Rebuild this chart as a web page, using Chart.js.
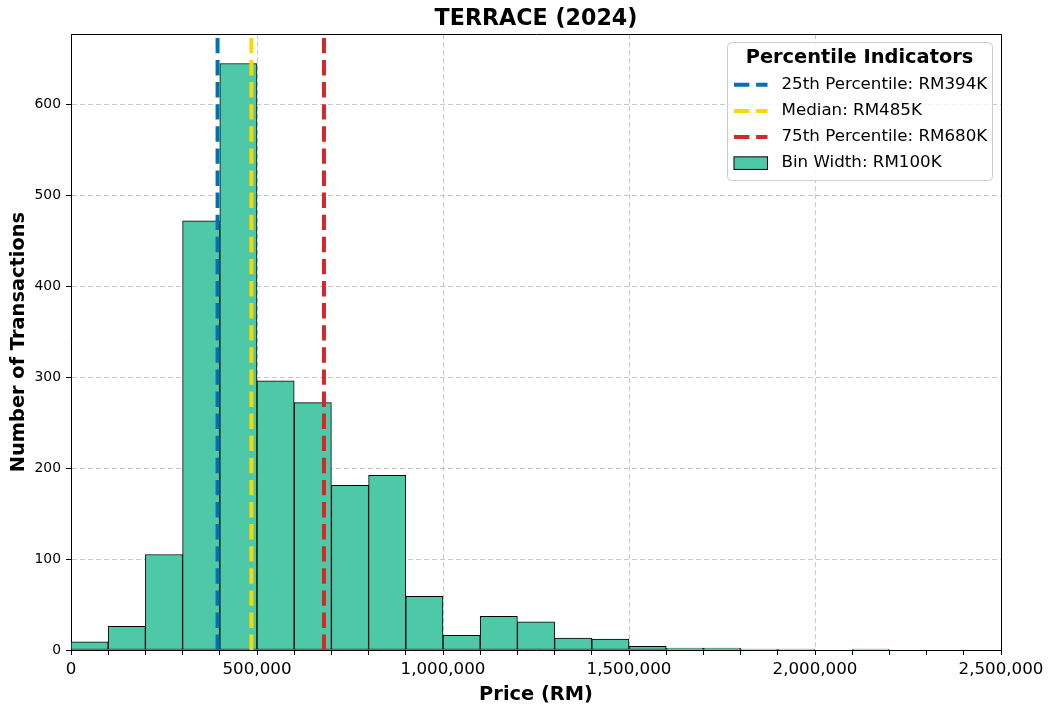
<!DOCTYPE html>
<html>
<head>
<meta charset="utf-8">
<script src="https://cdn.jsdelivr.net/npm/chart.js@4.4.1/dist/chart.umd.min.js"></script>
<style>
    html, body { margin: 0; padding: 0; background: #fff; }
</style>
</head>
<body>
<canvas id="chart" width="1052" height="712"></canvas>
<script>
// histogram bins (start of each 100K bin) and transaction counts
var binStarts = [0, 100000, 200000, 300000, 400000, 500000, 600000, 700000, 800000, 900000,
    1000000, 1100000, 1200000, 1300000, 1400000, 1500000, 1600000, 1700000, 1800000, 1900000,
    2000000, 2100000, 2200000, 2300000, 2400000];
var counts = [9, 26, 105, 472, 645, 296, 272, 181, 192, 59,
    16, 37, 31, 13, 12, 4, 2, 2, 1, 1,
    0, 1, 0, 0, 0];
var binWidth = 100000;
var binLabel = 'Bin Width: RM100K';

var percentileLabels = ['25th Percentile: RM394K', 'Median: RM485K', '75th Percentile: RM680K'];
var percentileValues = [394000, 485000, 680000];
var percentileColors = ['#0072B2', '#FFD700', '#D62728'];

var xMin = 0, xMax = 2500000;
var yMax = 677.25;
var chartTitle = 'TERRACE (2024)';
var legendTitle = 'Percentile Indicators';

Chart.defaults.font.family = '"DejaVu Sans", sans-serif';
Chart.defaults.color = '#000';

var datasets = [];
percentileValues.forEach(function (v, i) {
    datasets.push({
        type: 'line',
        label: percentileLabels[i],
        data: [{x: v, y: 0}, {x: v, y: yMax}],
        borderColor: percentileColors[i],
        borderWidth: 4,
        borderDash: [15.4, 6.7],
        pointRadius: 0,
        fill: false,
        order: 0
    });
});
datasets.push({
    type: 'bar',
    label: binLabel,
    data: binStarts.map(function (s, i) { return {x: s + binWidth / 2, y: counts[i]}; }),
    backgroundColor: '#4DC9A8',
    borderColor: '#000',
    borderWidth: 1,
    borderSkipped: false,
    barPercentage: 1,
    categoryPercentage: 1,
    order: 1
});

// top/right frame plus a legend box in the top-right corner
var frameLegend = {
    id: 'frameLegend',
    afterDraw: function (chart) {
        var ctx = chart.ctx, a = chart.chartArea;
        ctx.save();
        ctx.strokeStyle = '#000';
        ctx.lineWidth = 1;
        ctx.beginPath();
        ctx.moveTo(Math.round(a.left) + 0.5, Math.round(a.top) + 0.5);
        ctx.lineTo(Math.round(a.right) + 0.5, Math.round(a.top) + 0.5);
        ctx.lineTo(Math.round(a.right) + 0.5, Math.round(a.bottom) + 0.5);
        ctx.stroke();

        var w = 265, h = 138;
        var bx = a.right - 9 - w, by = a.top + 8;
        ctx.beginPath();
        ctx.roundRect(bx + 0.5, by + 0.5, w, h, 4);
        ctx.fillStyle = 'rgba(255,255,255,0.8)';
        ctx.fill();
        ctx.strokeStyle = '#cccccc';
        ctx.stroke();

        ctx.fillStyle = '#000';
        ctx.textBaseline = 'middle';
        ctx.textAlign = 'center';
        ctx.font = 'bold 19.4px "DejaVu Sans"';
        ctx.fillText(legendTitle, bx + w / 2, by + 15.5);

        ctx.textAlign = 'left';
        ctx.font = '16.7px "DejaVu Sans"';
        chart.data.datasets.forEach(function (ds, i) {
            var cy = by + 42.7 + i * 26.1;
            var hx = bx + 7;
            if (ds.type === 'line') {
                ctx.save();
                ctx.strokeStyle = ds.borderColor;
                ctx.lineWidth = ds.borderWidth;
                ctx.setLineDash(ds.borderDash);
                ctx.beginPath();
                ctx.moveTo(hx, cy);
                ctx.lineTo(hx + 33.5, cy);
                ctx.stroke();
                ctx.restore();
            } else {
                ctx.fillStyle = ds.backgroundColor;
                ctx.fillRect(hx, cy - 6.3, 33.5, 12.6);
                ctx.strokeStyle = '#000';
                ctx.lineWidth = 1;
                ctx.strokeRect(hx, cy - 6.3, 33.5, 12.6);
                ctx.fillStyle = '#000';
            }
            ctx.fillText(ds.label, bx + 54.5, cy);
        });
        ctx.restore();
    }
};

var ctx = document.getElementById('chart').getContext('2d');
new Chart(ctx, {
    type: 'bar',
    data: {datasets: datasets},
    plugins: [frameLegend],
    options: {
        responsive: false,
        animation: false,
        devicePixelRatio: 1,
        layout: {padding: {left: 0, right: 51, top: 0, bottom: 0}},
        plugins: {
            legend: {display: false},
            tooltip: {enabled: false},
            title: {
                display: true,
                text: chartTitle,
                fullSize: false,
                color: '#000',
                font: {size: 22.2, weight: 'bold', lineHeight: 1.2},
                padding: {top: 6, bottom: 1.5}
            }
        },
        scales: {
            x: {
                type: 'linear',
                min: xMin,
                max: xMax,
                offset: false,
                afterFit: function (s) { s.height = 62; },
                grid: {
                    offset: false,
                    color: function (c) {
                        return c.tick && c.tick.value % 500000 === 0 ? 'rgba(176,176,176,0.7)' : 'rgba(0,0,0,0)';
                    },
                    tickColor: '#000',
                    tickLength: 5
                },
                border: {color: '#000', width: 1, dash: [5, 3]},
                ticks: {
                    stepSize: binWidth,
                    autoSkip: false,
                    maxRotation: 0,
                    padding: 5,
                    font: {size: 16.7},
                    color: '#000',
                    callback: function (v) {
                        return v % 500000 === 0 ? v.toLocaleString('en-US') : '';
                    }
                },
                title: {
                    display: true,
                    text: 'Price (RM)',
                    color: '#000',
                    font: {size: 19.4, weight: 'bold', lineHeight: 1.2},
                    padding: {top: 0, bottom: 5}
                }
            },
            y: {
                min: 0,
                max: yMax,
                afterFit: function (s) { s.width = 71; },
                afterBuildTicks: function (s) {
                    s.ticks = s.ticks.filter(function (t) { return t.value % 100 === 0; });
                },
                grid: {
                    color: 'rgba(176,176,176,0.7)',
                    tickColor: '#000',
                    tickLength: 5
                },
                border: {color: '#000', width: 1, dash: [5, 3]},
                ticks: {
                    stepSize: 100,
                    padding: 5,
                    font: {size: 13.9},
                    color: '#000'
                },
                title: {
                    display: true,
                    text: 'Number of Transactions',
                    color: '#000',
                    font: {size: 19.4, weight: 'bold', lineHeight: 1.2},
                    padding: {top: 7, bottom: 0}
                }
            }
        }
    }
});
</script>
</body>
</html>
